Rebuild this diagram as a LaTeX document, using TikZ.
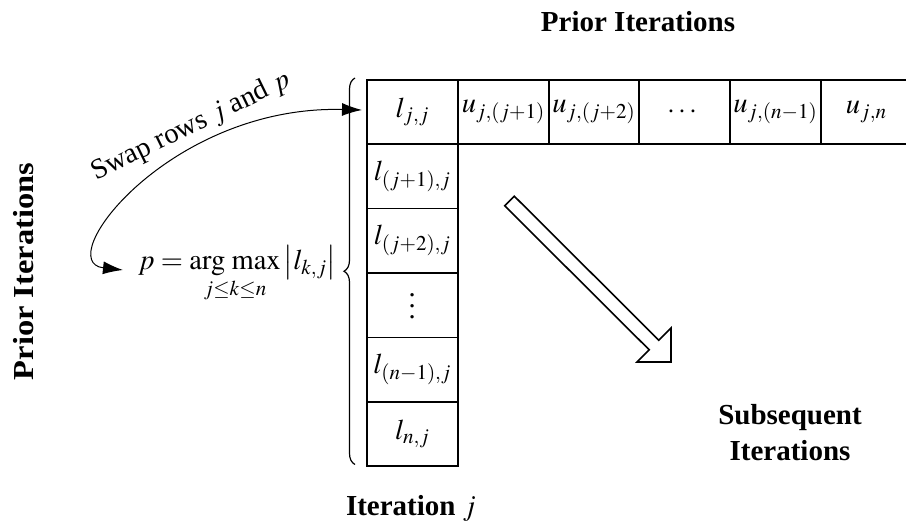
\documentclass[tikz,border=0pt]{standalone}
\usepackage{amsmath}
\usepackage{mathptmx}
\usepackage{fontspec}
\setmainfont{Liberation Serif}
\usetikzlibrary{arrows.meta,decorations.pathreplacing}
\newcommand{\bigvdots}{\vbox{\baselineskip=11pt\lineskiplimit=0pt\kern2pt\hbox{.}\hbox{.}\hbox{.}}}
\begin{document}
\begin{tikzpicture}[x=1pt,y=-1pt,
  big/.style={font=\fontsize{28.5}{32}\selectfont},
  cellbox/.style={draw,line width=1.6pt,minimum width=91pt,minimum height=64.4pt,inner sep=0pt,anchor=north west,big},
  lbl/.style={font=\fontsize{29}{36}\selectfont\bfseries,align=center}]
\useasboundingbox (0,0) rectangle (906,526);
\clip (0,0) rectangle (906,526);
% top row
\node[cellbox] (c0) at (366,79) {$l_{j,j}$};
\node[cellbox] (c1) at (457,79) {$u_{j,(j+1)}$};
\node[cellbox] (c2) at (547.5,79) {$u_{j,(j+2)}$};
\node[cellbox] (c3) at (638,79) {$\cdots$};
\node[cellbox] (c4) at (729,79) {$u_{j,(n-1)}$};
\node[cellbox] (c5) at (820,79) {$u_{j,n}$};
% column
\node[cellbox] (r1) at (366,143.4) {$l_{(j+1),j}$};
\node[cellbox] (r2) at (366,207.8) {$l_{(j+2),j}$};
\node[cellbox] (r3) at (366,272.2) {\bigvdots};
\node[cellbox] (r4) at (366,336.6) {$l_{(n-1),j}$};
\node[cellbox] (r5) at (366,401) {$l_{n,j}$};
% brace
\draw[line width=1.2pt,decorate,decoration={brace,amplitude=11pt}] (355,464.5) -- (355,78);
% p expression
\node[big,inner sep=0pt,anchor=base west] (pnode) at (138,270) {$\displaystyle p=\mathop{\mathrm{arg}\;\mathrm{max}}\limits_{j\le k\le n}\left|l_{k,j}\right|$};
\coordinate (swapstart) at (123,270);
\coordinate (swapend) at (362,110);
\draw[line width=1pt,{Latex[length=20pt,width=13pt]}-{Latex[length=20pt,width=13pt]}]
  (swapstart) .. controls (50,262) and (170,105) .. (swapend);
\node[big,rotate=26,inner sep=0pt] (swaplbl) at (191,127) {Swap rows $j$ and $p$};
% hollow arrow
\draw[line width=1.6pt,line join=miter,fill=white]
  (514.3,196.2) -- (658.8,340.2) -- (671,328) -- (671,362) -- (637,362) -- (649.2,349.8) -- (504.7,205.8) -- cycle;
% labels
\node[lbl] (ptop) at (638,22) {Prior Iterations};
\node[lbl,rotate=90,xscale=1.12] (pleft) at (24,271.5) {Prior Iterations};
\node[lbl] (subs) at (790,433) {Subsequent\\Iterations};
\node[lbl] (iterj) at (411,508) {Iteration \boldmath$j$};
\end{tikzpicture}
\end{document}
